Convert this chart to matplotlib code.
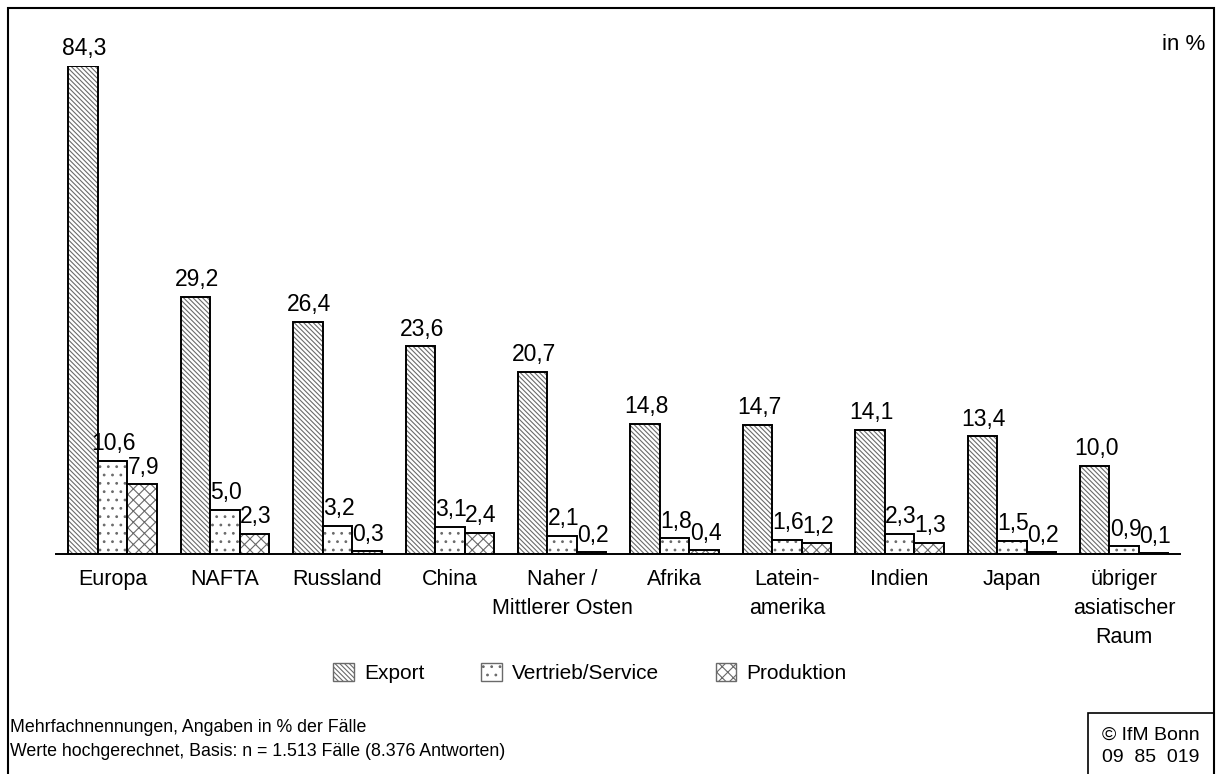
import numpy as np
import matplotlib.pyplot as plt
from matplotlib.patches import Rectangle, Patch

plt.rcParams['font.family'] = ['Liberation Sans', 'DejaVu Sans']
plt.rcParams['hatch.linewidth'] = 0.8

categories = ['Europa', 'NAFTA', 'Russland', 'China', 'Naher /\nMittlerer Osten',
              'Afrika', 'Latein-\namerika', 'Indien', 'Japan',
              'übriger\nasiatischer\nRaum']
export = [84.3, 29.2, 26.4, 23.6, 20.7, 14.8, 14.7, 14.1, 13.4, 10.0]
vertrieb = [10.6, 5.0, 3.2, 3.1, 2.1, 1.8, 1.6, 2.3, 1.5, 0.9]
produktion = [7.9, 2.3, 0.3, 2.4, 0.2, 0.4, 1.2, 1.3, 0.2, 0.1]

series = [('Export', export, '\\' * 7),
          ('Vertrieb/Service', vertrieb, '..'),
          ('Produktion', produktion, 'xxx')]

# the original cuts the Europa export bar at the top of the plot area
y_top = 55.45

W, H = 1222, 774
fig = plt.figure(figsize=(W / 100, H / 100), dpi=100)
ax = fig.add_axes([56.4 / W, (H - 554) / H, 1124 / W, 488 / H])

x = np.arange(len(categories))
bw = 0.262
hatch_col = '#6a6a6a'
for i, (name, vals, hatch) in enumerate(series):
    pos = x + (i - 1) * bw
    shown = np.minimum(vals, y_top)
    # hatch in grey, outline in black
    ax.bar(pos, shown, width=bw, facecolor='white', edgecolor=hatch_col,
           linewidth=0, hatch=hatch)
    ax.bar(pos, shown, width=bw, fill=False, edgecolor='black', linewidth=1.4)
    for p, v, s in zip(pos, vals, shown):
        ax.annotate(f'{v:.1f}'.replace('.', ','), (p, s), xytext=(1, 4),
                    textcoords='offset points', ha='center', va='bottom',
                    fontsize=16.5, annotation_clip=False)

ax.set_xlim(-0.5, 9.5)
ax.set_ylim(0, y_top)
ax.set_xticks(x)
ax.set_xticklabels(categories, fontsize=15.5, linespacing=1.5, va='top')
ax.tick_params(axis='x', length=0, pad=11)
ax.set_yticks([])
for s in ['top', 'right', 'left']:
    ax.spines[s].set_visible(False)
ax.spines['bottom'].set_linewidth(1.4)

handles = [Patch(facecolor='white', edgecolor=hatch_col, hatch=h, linewidth=1.0)
           for _, _, h in series]
fig.legend(handles, [s[0] for s in series], loc='center',
           bbox_to_anchor=(590 / W, 1 - 673 / H), ncol=3, frameon=False,
           fontsize=15, handlelength=1.0, handleheight=1.0,
           columnspacing=2.7, handletextpad=0.5)

fig.text(1205 / W, 1 - 44 / H, 'in %', ha='right', va='center', fontsize=16)
fig.text(10 / W, 1 - 728 / H, 'Mehrfachnennungen, Angaben in % der Fälle',
         ha='left', va='center', fontsize=12.8)
fig.text(10 / W, 1 - 752 / H,
         'Werte hochgerechnet, Basis: n = 1.513 Fälle (8.376 Antworten)',
         ha='left', va='center', fontsize=12.8)

# outer frame and copyright box
fig.patches.append(Rectangle((8 / W, -0.01), 1206 / W, 1.01 - 8 / H,
                             transform=fig.transFigure, fill=False,
                             edgecolor='black', linewidth=1.5))
fig.patches.append(Rectangle((1088 / W, -0.01), 126 / W, 0.01 + (H - 713) / H,
                             transform=fig.transFigure, fill=False,
                             edgecolor='black', linewidth=1.2))
fig.text(1151 / W, 1 - 735 / H, '© IfM Bonn', ha='center', va='center', fontsize=14)
fig.text(1151 / W, 1 - 757 / H, '09  85  019', ha='center', va='center', fontsize=14)

fig.savefig('out.png', dpi=100)
